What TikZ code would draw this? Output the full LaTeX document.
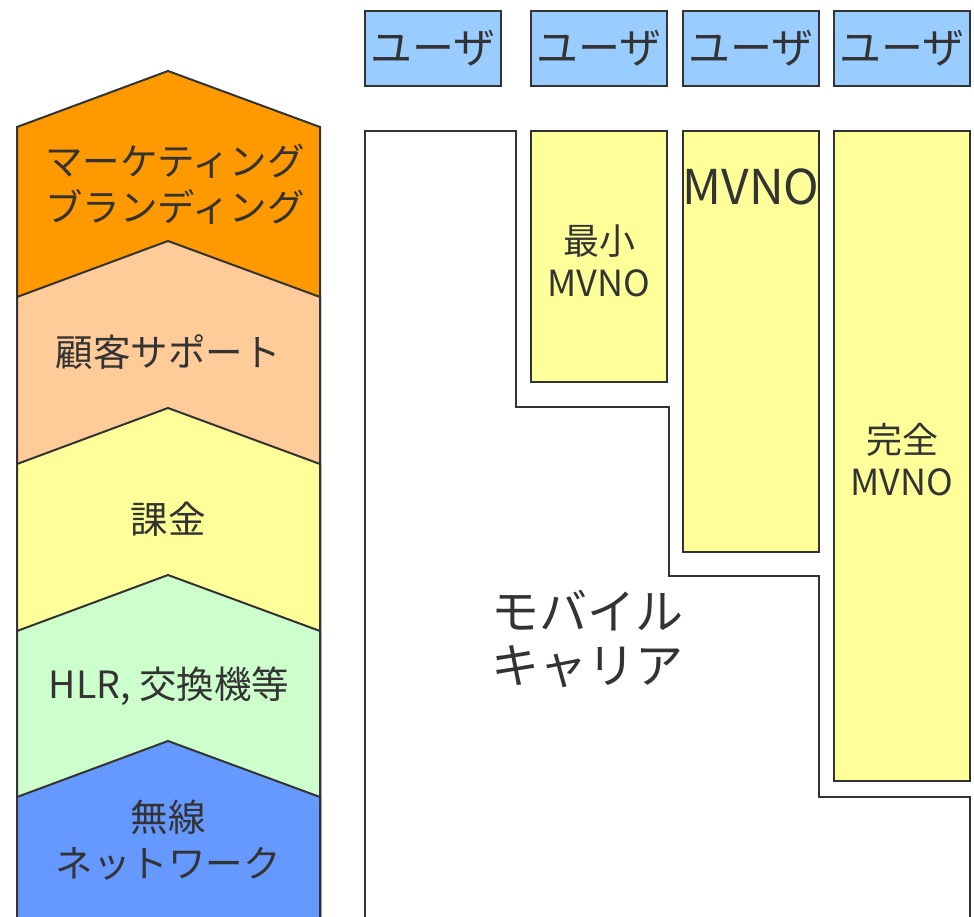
\documentclass[tikz,border=0pt]{standalone}
\usepackage{fontspec}
\setmainfont{Noto Sans CJK JP}
\definecolor{ink}{HTML}{333333}
\definecolor{corange}{HTML}{FF9900}
\definecolor{cpeach}{HTML}{FFCC99}
\definecolor{cyellow}{HTML}{FFFF99}
\definecolor{cgreen}{HTML}{CCFFCC}
\definecolor{cblue}{HTML}{6699FF}
\definecolor{cuser}{HTML}{99CCFF}
\tikzset{
  chev/.style={draw=ink, line width=2pt, line join=miter},
  lbl/.style={text=ink, align=center, inner sep=0pt, font=\fontsize{37.5}{46}\selectfont},
  boxlbl/.style={text=ink, align=center, inner sep=0pt, font=\fontsize{36}{42}\selectfont},
  biglbl/.style={text=ink, align=center, inner sep=0pt, font=\fontsize{48}{54}\selectfont},
  userbox/.style={draw=ink, line width=2pt, fill=cuser, minimum width=136pt, minimum height=75pt, inner sep=0pt, text=ink, font=\fontsize{42}{50}\selectfont},
  mvnobox/.style={draw=ink, line width=2pt, fill=cyellow, inner sep=0pt},
  carrier/.style={draw=ink, line width=2pt}
}
\begin{document}
\begin{tikzpicture}[x=1pt,y=-1pt]
\useasboundingbox (0,0) rectangle (974,917);
% left stack of chevrons
\draw[chev, fill=corange] (17,127) -- (168,71) -- (320,127) -- (320,940) -- (17,940) -- cycle;
\draw[chev, fill=cpeach] (17,297) -- (168,241) -- (320,297) -- (320,940) -- (17,940) -- cycle;
\draw[chev, fill=cyellow] (17,464) -- (168,408) -- (320,464) -- (320,940) -- (17,940) -- cycle;
\draw[chev, fill=cgreen] (17,631) -- (168,575) -- (320,631) -- (320,940) -- (17,940) -- cycle;
\draw[chev, fill=cblue] (17,797) -- (168,741) -- (320,797) -- (320,940) -- (17,940) -- cycle;
\node[lbl] (mk) at (175,184) {マーケティング\\ブランディング};
\node[lbl] (cs) at (168,352) {顧客サポート};
\node[lbl] (bill) at (168,519) {課金};
\node[lbl] (hlr) at (169,686) {HLR, 交換機等};
\node[lbl] (radio) at (168,840) {無線\\ネットワーク};
% users
\node[userbox] (u1) at (433,48.5) {ユーザ};
\node[userbox] (u2) at (599,48.5) {ユーザ};
\node[userbox] (u3) at (751,48.5) {ユーザ};
\node[userbox] (u4) at (902,48.5) {ユーザ};
% carrier outline
\draw[carrier] (365,940) -- (365,131) -- (516,131) -- (516,407) -- (669,407) -- (669,576) -- (819,576) -- (819,797) -- (970,797) -- (970,940);
\node[biglbl] (carr) at (587,639) {モバイル\\キャリア};
% MVNO boxes
\node[mvnobox, minimum width=136pt, minimum height=251pt] (minbox) at (599,256.5) {};
\node[mvnobox, minimum width=136pt, minimum height=421pt] (midbox) at (751,341.5) {};
\node[mvnobox, minimum width=136pt, minimum height=650pt] (fullbox) at (902,456) {};
\node[boxlbl] (minlbl) at (599,261) {最小\\MVNO};
\node[biglbl] (midlbl) at (751,187) {MVNO};
\node[boxlbl] (fulllbl) at (902,460) {完全\\MVNO};
\end{tikzpicture}
\end{document}
